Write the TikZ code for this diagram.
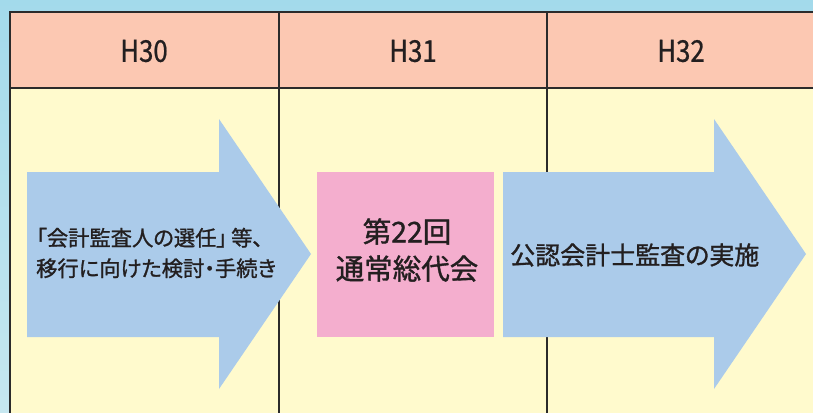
\documentclass[tikz,border=0pt]{standalone}
\usepackage{fontspec}
\setmainfont{Noto Sans CJK JP}
\newfontfamily\jpfont[FakeBold=1.2,RawFeature=+palt]{Noto Sans CJK JP}
\newfontfamily\hfont[FakeBold=0.8]{Noto Sans CJK JP}
\definecolor{bgtop}{HTML}{A3DAEB}
\definecolor{bgbot}{HTML}{C6E7F0}
\definecolor{headfill}{HTML}{FCC8B2}
\definecolor{bodyfill}{HTML}{FFFACD}
\definecolor{arrowblue}{HTML}{ABCBEA}
\definecolor{pinkbox}{HTML}{F4AECE}
\definecolor{linecol}{HTML}{2B2B2B}
\definecolor{txtcol}{HTML}{231F20}
\tikzset{
  gridline/.style={draw=linecol, line width=2.4pt},
  headtext/.style={font=\hfont\fontsize{30}{32}\selectfont, text=txtcol, inner sep=0pt},
  arrowshape/.style={fill=arrowblue, draw=none},
  bodytext/.style={text=txtcol, inner sep=0pt, align=center},
}
\begin{document}
\begin{tikzpicture}[x=1pt,y=-1pt]
\useasboundingbox (0,0) rectangle (813,412);
% background
\shade[top color=bgtop, bottom color=bgbot] (0,0) rectangle (813,412);
% table fills
\fill[bodyfill] (10,12) rectangle (820,420);
\fill[headfill] (10,12) rectangle (820,88);
% grid lines
\draw[gridline] (279,12) -- (279,420);
\draw[gridline] (547,12) -- (547,420);
\draw[gridline] (10,420) -- (10,12) -- (820,12);
\draw[gridline] (10,88) -- (820,88);
% arrows and box
\fill[arrowshape] (27,172) -- (219,172) -- (219,119) -- (311,254) -- (219,389) -- (219,337) -- (27,337) -- cycle;
\fill[arrowshape] (503,172) -- (714,172) -- (714,119) -- (806,254) -- (714,389) -- (714,337) -- (503,337) -- cycle;
\fill[pinkbox] (317,172) rectangle (494,337);
% header labels
\node[headtext] (h30) at (144,51) {\scalebox{0.86}[1]{H30}};
\node[headtext] (h31) at (413,51) {\scalebox{0.86}[1]{H31}};
\node[headtext] (h32) at (681,51) {\scalebox{0.86}[1]{H32}};
% body labels
\node[bodytext, anchor=west, align=left, font=\jpfont\fontsize{21.3}{30.5}\selectfont] (t1) at (36,253) {「会計監査人の選任」\hspace{4pt}等、\\移行に向けた検討・手続き};
\node[bodytext, font=\jpfont\fontsize{28.5}{37}\selectfont] (t2) at (407,250) {第22回\\通常総代会};
\node[bodytext, anchor=west, font=\jpfont\fontsize{25}{28}\selectfont] (t3) at (510,255) {公認会計士監査の実施};
\end{tikzpicture}
\end{document}
